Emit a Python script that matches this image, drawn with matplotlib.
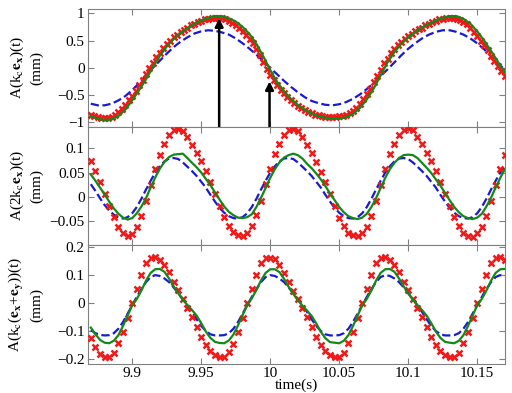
import numpy as np
import matplotlib
matplotlib.use("Agg")
import matplotlib.pyplot as plt

# ============================
# DATA
# ============================
# top panel: lines every 5 ms, measured markers every 2.5 ms
t_top_line = np.linspace(9.870, 10.170, 61)
t_top_mark = np.linspace(9.870, 10.170, 121)

top_green = [-0.89, -0.94, -0.96, -0.95, -0.89, -0.77, -0.60, -0.41, -0.21, 0.01,
             0.22, 0.39, 0.53, 0.64, 0.73, 0.81, 0.87, 0.92, 0.95, 0.95,
             0.91, 0.85, 0.75, 0.62, 0.44, 0.21, -0.04, -0.26, -0.43, -0.57,
             -0.68, -0.77, -0.84, -0.89, -0.92, -0.93, -0.93, -0.91, -0.85, -0.74,
             -0.58, -0.38, -0.14, 0.10, 0.29, 0.44, 0.56, 0.66, 0.74, 0.81,
             0.87, 0.92, 0.95, 0.95, 0.90, 0.81, 0.67, 0.50, 0.31, 0.11,
             -0.08]
top_blue = [-0.66, -0.69, -0.69, -0.66, -0.60, -0.52, -0.41, -0.28, -0.14, 0.00,
            0.13, 0.26, 0.38, 0.48, 0.56, 0.63, 0.67, 0.69, 0.68, 0.65,
            0.61, 0.54, 0.45, 0.35, 0.24, 0.12, 0.00, -0.12, -0.24, -0.35,
            -0.45, -0.54, -0.61, -0.65, -0.68, -0.69, -0.67, -0.63, -0.57, -0.49,
            -0.39, -0.28, -0.15, -0.03, 0.10, 0.23, 0.35, 0.45, 0.54, 0.61,
            0.66, 0.69, 0.69, 0.66, 0.61, 0.54, 0.45, 0.34, 0.21, 0.08,
            -0.03]
top_red = [-0.86, -0.89, -0.91, -0.92, -0.92, -0.92, -0.90, -0.87, -0.82, -0.76,
           -0.68, -0.60, -0.51, -0.42, -0.32, -0.22, -0.12, -0.01, 0.09, 0.19,
           0.28, 0.36, 0.44, 0.50, 0.56, 0.61, 0.66, 0.70, 0.74, 0.78,
           0.81, 0.84, 0.86, 0.89, 0.90, 0.92, 0.92, 0.92, 0.91, 0.89,
           0.86, 0.83, 0.79, 0.74, 0.68, 0.61, 0.53, 0.45, 0.34, 0.23,
           0.11, -0.02, -0.13, -0.23, -0.32, -0.40, -0.47, -0.54, -0.59, -0.65,
           -0.70, -0.74, -0.77, -0.81, -0.83, -0.86, -0.87, -0.89, -0.90, -0.90,
           -0.90, -0.90, -0.89, -0.88, -0.86, -0.83, -0.79, -0.73, -0.66, -0.58,
           -0.49, -0.39, -0.27, -0.16, -0.04, 0.08, 0.17, 0.27, 0.34, 0.41,
           0.47, 0.53, 0.58, 0.63, 0.67, 0.71, 0.74, 0.78, 0.81, 0.84,
           0.86, 0.89, 0.90, 0.92, 0.92, 0.92, 0.90, 0.88, 0.84, 0.80,
           0.74, 0.66, 0.58, 0.50, 0.41, 0.32, 0.22, 0.13, 0.03, -0.06,
           -0.15]

# middle and bottom panels: everything sampled every 1/300 s
t_fast = np.linspace(9.870, 10.170, 91)

mid_red = [0.073, 0.053, 0.031, 0.006, -0.019, -0.042, -0.062, -0.075,
           -0.081, -0.076, -0.062, -0.039, -0.009, 0.025, 0.057, 0.087, 0.109, 0.127,
           0.137, 0.139, 0.135, 0.123, 0.107, 0.091, 0.073, 0.053, 0.031, 0.006,
           -0.019, -0.042, -0.060, -0.073, -0.079,
           -0.081, -0.075, -0.061, -0.038, -0.008, 0.026, 0.058, 0.088, 0.110, 0.128,
           0.138, 0.140, 0.136, 0.124, 0.107, 0.090, 0.072, 0.052, 0.030, 0.005,
           -0.020, -0.043, -0.061, -0.074, -0.079,
           -0.081, -0.075, -0.062, -0.039, -0.009, 0.025, 0.057, 0.088, 0.110, 0.128,
           0.138, 0.141, 0.137, 0.124, 0.108, 0.091, 0.073, 0.053, 0.031, 0.006,
           -0.019, -0.042, -0.061, -0.074, -0.080,
           -0.082, -0.075, -0.062, -0.039, -0.009, 0.025, 0.057, 0.086]
mid_green = [0.046, 0.033, 0.019, 0.005, -0.010, -0.024, -0.035, -0.043,
             -0.047, -0.044, -0.034, -0.020, -0.003, 0.019, 0.040, 0.058, 0.072, 0.082,
             0.087, 0.088, 0.089, 0.080, 0.070, 0.061, 0.050, 0.037, 0.024, 0.009,
             -0.006, -0.020, -0.031, -0.038, -0.043,
             -0.044, -0.042, -0.036, -0.021, -0.002, 0.018, 0.039, 0.057, 0.071, 0.081,
             0.086, 0.089, 0.086, 0.079, 0.068, 0.059, 0.048, 0.036, 0.022, 0.007,
             -0.007, -0.021, -0.032, -0.040, -0.044,
             -0.046, -0.043, -0.035, -0.021, -0.003, 0.018, 0.039, 0.057, 0.070, 0.080,
             0.086, 0.087, 0.086, 0.080, 0.070, 0.060, 0.049, 0.036, 0.023, 0.008,
             -0.007, -0.021, -0.032, -0.040, -0.044,
             -0.046, -0.043, -0.035, -0.020, -0.002, 0.019, 0.039, 0.057]
mid_blue = [0.026, 0.012, -0.003, -0.017, -0.028, -0.037, -0.043, -0.045,
            -0.042, -0.034, -0.021, -0.004, 0.015, 0.033, 0.050, 0.063, 0.073, 0.079,
            0.080, 0.078, 0.071, 0.062, 0.053, 0.043, 0.031, 0.019, 0.004, -0.010,
            -0.023, -0.033, -0.040, -0.044, -0.045,
            -0.042, -0.034, -0.021, -0.004, 0.015, 0.033, 0.050, 0.063, 0.073, 0.079,
            0.080, 0.078, 0.071, 0.062, 0.053, 0.043, 0.031, 0.019, 0.004, -0.010,
            -0.023, -0.033, -0.040, -0.044, -0.045,
            -0.042, -0.034, -0.021, -0.004, 0.015, 0.033, 0.050, 0.063, 0.073, 0.079,
            0.080, 0.078, 0.071, 0.062, 0.053, 0.043, 0.031, 0.019, 0.004, -0.010,
            -0.023, -0.033, -0.040, -0.044, -0.045,
            -0.042, -0.034, -0.021, -0.004, 0.015, 0.033, 0.050, 0.063]

bot_red = [-0.126, -0.156, -0.181,
           -0.193, -0.193, -0.178, -0.144, -0.105, -0.052, 0.000, 0.051, 0.100, 0.143,
           0.161, 0.164, 0.155, 0.137, 0.110, 0.076, 0.045, 0.015, -0.016, -0.050,
           -0.085, -0.120, -0.150, -0.170, -0.185,
           -0.192, -0.193, -0.177, -0.145, -0.104, -0.053, 0.001, 0.050, 0.101, 0.142,
           0.160, 0.163, 0.156, 0.136, 0.109, 0.075, 0.044, 0.014, -0.017, -0.051,
           -0.086, -0.121, -0.151, -0.171, -0.186,
           -0.193, -0.193, -0.178, -0.144, -0.105, -0.052, 0.000, 0.051, 0.100, 0.143,
           0.161, 0.164, 0.155, 0.137, 0.110, 0.076, 0.045, 0.015, -0.016, -0.050,
           -0.085, -0.120, -0.150, -0.170, -0.185,
           -0.193, -0.193, -0.178, -0.144, -0.105, -0.052, 0.000, 0.051, 0.100, 0.143,
           0.161, 0.164, 0.155]
bot_green = [-0.088, -0.112, -0.132,
             -0.142, -0.144, -0.135, -0.115, -0.082, -0.045, -0.008, 0.015, 0.045, 0.080,
             0.108, 0.121, 0.122, 0.112, 0.088, 0.060, 0.035, 0.012, -0.008, -0.025,
             -0.045, -0.072, -0.102, -0.125, -0.139,
             -0.143, -0.144, -0.134, -0.113, -0.080, -0.043, -0.006, 0.017, 0.047, 0.081,
             0.108, 0.121, 0.121, 0.111, 0.087, 0.058, 0.033, 0.010, -0.009, -0.027,
             -0.046, -0.073, -0.103, -0.126, -0.140,
             -0.142, -0.144, -0.135, -0.115, -0.082, -0.045, -0.008, 0.015, 0.045, 0.080,
             0.108, 0.121, 0.122, 0.112, 0.088, 0.060, 0.035, 0.012, -0.008, -0.025,
             -0.045, -0.072, -0.102, -0.125, -0.139,
             -0.142, -0.144, -0.135, -0.115, -0.082, -0.045, -0.008, 0.015, 0.045, 0.080,
             0.108, 0.121, 0.122]
bot_blue = [-0.097, -0.108, -0.114,
            -0.116, -0.115, -0.108, -0.092, -0.068, -0.038, -0.008, 0.022, 0.050, 0.075,
            0.093, 0.100, 0.097, 0.088, 0.075, 0.056, 0.035, 0.014, -0.008, -0.032,
            -0.058, -0.082, -0.100, -0.112, -0.116,
            -0.116, -0.115, -0.108, -0.092, -0.068, -0.038, -0.008, 0.022, 0.050, 0.075,
            0.093, 0.100, 0.097, 0.088, 0.075, 0.056, 0.035, 0.014, -0.008, -0.032,
            -0.058, -0.082, -0.100, -0.112, -0.116,
            -0.116, -0.115, -0.108, -0.092, -0.068, -0.038, -0.008, 0.022, 0.050, 0.075,
            0.093, 0.100, 0.097, 0.088, 0.075, 0.056, 0.035, 0.014, -0.008, -0.032,
            -0.058, -0.082, -0.100, -0.112, -0.116,
            -0.116, -0.115, -0.108, -0.092, -0.068, -0.038, -0.008, 0.022, 0.050, 0.075,
            0.093, 0.100, 0.097]

# arrows in the top panel (time, tip height)
arrow_t = [9.963, 9.9995]
arrow_tip = [0.91, -0.25]

x_ticks = [9.9, 9.95, 10, 10.05, 10.1, 10.15]
x_ticklabels = ["9.9", "9.95", "10", "10.05", "10.1", "10.15"]
top_yticks = [-1, -0.5, 0, 0.5, 1]
top_ylabels = ["\u22121", "\u22120.5", "0", "0.5", "1"]
mid_yticks = [-0.05, 0, 0.05, 0.1]
mid_ylabels = ["\u22120.05", "0", "0.05", "0.1"]
bot_yticks = [-0.2, -0.1, 0, 0.1, 0.2]
bot_ylabels = ["\u22120.2", "\u22120.1", "0", "0.1", "0.2"]

# ============================
# STYLE
# ============================
plt.rcParams["font.family"] = ["Liberation Serif", "DejaVu Serif"]
plt.rcParams["mathtext.fontset"] = "stix"
plt.rcParams["font.size"] = 11

RED = "#f01818"
GREEN = "#15881a"
BLUE = "#1a1ad0"
SPINE = "#808080"

fig = plt.figure(figsize=(5.12, 3.93), dpi=100)
left, width = 0.172, 0.814
ax_top = fig.add_axes([left, 0.678, width, 0.299])
ax_mid = fig.add_axes([left, 0.376, width, 0.302])
ax_bot = fig.add_axes([left, 0.074, width, 0.302])

def style(ax, yticks, ylabels, ylim, label):
    ax.set_xlim(9.868, 10.17)
    ax.set_ylim(*ylim)
    ax.set_xticks(x_ticks)
    ax.set_yticks(yticks)
    ax.set_yticklabels(ylabels)
    ax.tick_params(direction="in", top=True, right=True, length=4,
                   width=0.8, color=SPINE, labelsize=11, pad=2.5)
    for s in ax.spines.values():
        s.set_color(SPINE)
        s.set_linewidth(0.8)
    ax.set_ylabel(label, fontsize=11, linespacing=1.3)
    ax.yaxis.set_label_coords(-0.108, 0.5)

# top
ax_top.plot(t_top_line, top_blue, "--", color=BLUE, lw=1.6, zorder=2)
ax_top.plot(t_top_mark, top_red, "x", color=RED, ms=4, mew=1.8, zorder=3)
ax_top.plot(t_top_line, top_green, "-", color=GREEN, lw=1.6, zorder=4)
for t_a, tip in zip(arrow_t, arrow_tip):
    ax_top.annotate("", xy=(t_a, tip), xytext=(t_a, -1.08),
                    arrowprops=dict(arrowstyle="-|>", color="k", lw=1.8,
                                    mutation_scale=12, shrinkA=0, shrinkB=0),
                    zorder=5)
style(ax_top, top_yticks, top_ylabels, (-1.08, 1.08),
      r"A(k$_\mathrm{c}$$\mathbf{e}_\mathbf{x}$)(t)" + "\n(mm)")
ax_top.set_xticklabels([])

# middle
ax_mid.plot(t_fast, mid_blue, "--", color=BLUE, lw=1.6, zorder=2)
ax_mid.plot(t_fast, mid_red, "x", color=RED, ms=4, mew=1.8, zorder=3)
ax_mid.plot(t_fast, mid_green, "-", color=GREEN, lw=1.6, zorder=4)
style(ax_mid, mid_yticks, mid_ylabels, (-0.1, 0.145),
      r"A(2k$_\mathrm{c}$$\mathbf{e}_\mathbf{x}$)(t)" + "\n(mm)")
ax_mid.set_xticklabels([])

# bottom
ax_bot.plot(t_fast, bot_blue, "--", color=BLUE, lw=1.6, zorder=2)
ax_bot.plot(t_fast, bot_red, "x", color=RED, ms=4, mew=1.8, zorder=3)
ax_bot.plot(t_fast, bot_green, "-", color=GREEN, lw=1.6, zorder=4)
style(ax_bot, bot_yticks, bot_ylabels, (-0.218, 0.207),
      r"A(k$_\mathrm{c}$($\mathbf{e}_\mathbf{x}$+$\mathbf{e}_\mathbf{y}$))(t)" + "\n(mm)")
ax_bot.set_xticklabels(x_ticklabels)
ax_bot.set_xlabel("time(s)", fontsize=11, labelpad=-1)

fig.savefig("out.png", dpi=100, facecolor="white")
